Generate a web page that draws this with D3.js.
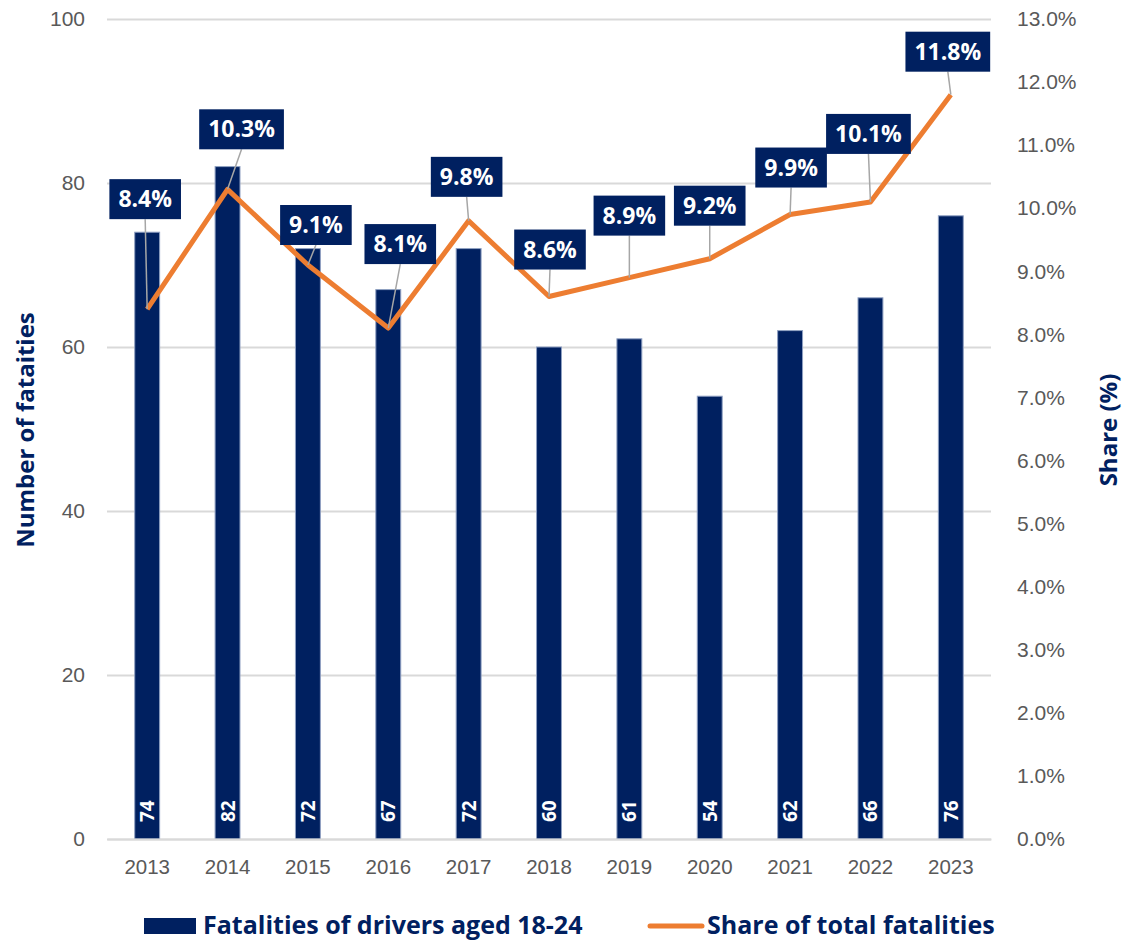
<!DOCTYPE html>
<html>
<head>
<meta charset="utf-8">
<script src="https://cdn.jsdelivr.net/npm/d3@7"></script>
<style>
  body { margin: 0; background: #fff; }
  svg { display: block; font-family: 'Open Sans', 'Noto Sans', sans-serif; }
</style>
</head>
<body>
<div id="chart"></div>
<script>
const years = ['2013', '2014', '2015', '2016', '2017', '2018', '2019', '2020', '2021', '2022', '2023'];
const fatalities = [74, 82, 72, 67, 72, 60, 61, 54, 62, 66, 76];
const share = [8.4, 10.3, 9.1, 8.1, 9.8, 8.6, 8.9, 9.2, 9.9, 10.1, 11.8];
const leftTicks = [0, 20, 40, 60, 80, 100];
const rightTicks = [0, 1, 2, 3, 4, 5, 6, 7, 8, 9, 10, 11, 12, 13];

// where each share label sits relative to its point (px), hand placed like the original
const labelShift = [[-2, -110], [14, -60], [8, -40], [12, -84], [-2, -44], [1, -47],
  [0, -62], [0, -53], [1, -47], [-2, -68], [-3, -43]];

const navy = '#002060';
const orange = '#ED7D31';
const grey = '#595959';

const width = 1125, height = 940;
const margin = { top: 19, right: 134, bottom: 101, left: 107 };
const innerW = width - margin.left - margin.right;
const innerH = height - margin.top - margin.bottom;

const svg = d3.select('#chart')
  .append('svg')
  .attr('width', width)
  .attr('height', height);

const g = svg.append('g').attr('transform', `translate(${margin.left},${margin.top})`);

const x = d3.scaleBand().domain(years).range([0, innerW]).paddingInner(0.69).paddingOuter(0.345);
const yLeft = d3.scaleLinear().domain([0, 100]).range([innerH, 0]);
const yRight = d3.scaleLinear().domain([0, 13]).range([innerH, 0]);
const cx = (d) => x(d) + x.bandwidth() / 2;

// gridlines
g.append('g')
  .call(d3.axisLeft(yLeft).tickValues(leftTicks).tickSize(-innerW).tickFormat(''))
  .call((s) => s.select('.domain').remove())
  .selectAll('line')
  .attr('stroke', '#d9d9d9')
  .attr('stroke-width', 2);

// left axis
g.append('g')
  .call(d3.axisLeft(yLeft).tickValues(leftTicks).tickSize(0).tickPadding(22))
  .call((s) => s.select('.domain').remove())
  .selectAll('text')
  .attr('fill', grey)
  .style('font-size', '21px');

// right axis
g.append('g')
  .attr('transform', `translate(${innerW},0)`)
  .call(d3.axisRight(yRight).tickValues(rightTicks).tickSize(0).tickPadding(26)
    .tickFormat((d) => d.toFixed(1) + '%'))
  .call((s) => s.select('.domain').remove())
  .selectAll('text')
  .attr('fill', grey)
  .style('font-size', '21px');

// bars
g.selectAll('.bar')
  .data(fatalities)
  .enter()
  .append('rect')
  .attr('class', 'bar')
  .attr('x', (d, i) => x(years[i]))
  .attr('y', (d) => yLeft(d))
  .attr('width', x.bandwidth())
  .attr('height', (d) => innerH - yLeft(d))
  .attr('fill', navy)
  .attr('stroke', '#8fa0c2')
  .attr('stroke-width', 1);

// bar values
g.selectAll('.barlabel')
  .data(fatalities)
  .enter()
  .append('text')
  .attr('class', 'barlabel')
  .attr('transform', (d, i) => `translate(${cx(years[i]) + 7},${innerH - 17}) rotate(-90)`)
  .attr('fill', '#fff')
  .style('font-size', '19px')
  .style('font-weight', 700)
  .text((d) => d);

// x axis
g.append('g')
  .attr('transform', `translate(0,${innerH})`)
  .call(d3.axisBottom(x).tickSize(0).tickPadding(20))
  .call((s) => s.select('.domain').attr('stroke', '#d9d9d9').attr('stroke-width', 2))
  .selectAll('text')
  .attr('fill', grey)
  .style('font-size', '20.5px');

// share line
const line = d3.line()
  .x((d, i) => cx(years[i]))
  .y((d) => yRight(d));

g.append('path')
  .datum(share)
  .attr('d', line)
  .attr('fill', 'none')
  .attr('stroke', orange)
  .attr('stroke-width', 5)
  .attr('stroke-linejoin', 'round');

// share labels with leader lines
const labels = g.selectAll('.sharelabel')
  .data(share)
  .enter()
  .append('g')
  .attr('class', 'sharelabel');

labels.each(function (d, i) {
  const px = cx(years[i]);
  const py = yRight(d);
  const lx = px + labelShift[i][0];
  const ly = py + labelShift[i][1];
  const grp = d3.select(this);

  grp.append('line')
    .attr('x1', lx).attr('y1', ly + 20)
    .attr('x2', px).attr('y2', py)
    .attr('stroke', '#a6a6a6')
    .attr('stroke-width', 1.5);

  const rect = grp.append('rect').attr('fill', navy);
  const t = grp.append('text')
    .attr('x', lx)
    .attr('y', ly)
    .attr('dy', '0.35em')
    .attr('text-anchor', 'middle')
    .attr('fill', '#fff')
    .style('font-size', '23px')
    .style('font-weight', 700)
    .text(d.toFixed(1) + '%');
  const w = t.node().getComputedTextLength() + 18;
  rect.attr('x', lx - w / 2).attr('y', ly - 20).attr('width', w).attr('height', 40);
});

// axis titles
svg.append('text')
  .attr('transform', `translate(34,430) rotate(-90)`)
  .attr('text-anchor', 'middle')
  .attr('fill', navy)
  .style('font-size', '24px')
  .style('font-weight', 700)
  .text('Number of fataities');

svg.append('text')
  .attr('transform', `translate(1117,430) rotate(-90)`)
  .attr('text-anchor', 'middle')
  .attr('fill', navy)
  .style('font-size', '24px')
  .style('font-weight', 700)
  .text('Share (%)');

// legend
const legend = svg.append('g').attr('transform', 'translate(0,925)');
legend.append('rect')
  .attr('x', 144).attr('y', -7).attr('width', 52).attr('height', 16)
  .attr('fill', navy);
legend.append('text')
  .attr('x', 203).attr('y', 9)
  .attr('fill', navy)
  .style('font-size', '25px')
  .style('font-weight', 700)
  .text('Fatalities of drivers aged 18-24');
legend.append('line')
  .attr('x1', 650).attr('x2', 702).attr('y1', 1).attr('y2', 1)
  .attr('stroke', orange)
  .attr('stroke-width', 5)
  .attr('stroke-linecap', 'round');
legend.append('text')
  .attr('x', 707).attr('y', 9)
  .attr('fill', navy)
  .style('font-size', '25px')
  .style('font-weight', 700)
  .text('Share of total fatalities');
</script>
</body>
</html>
